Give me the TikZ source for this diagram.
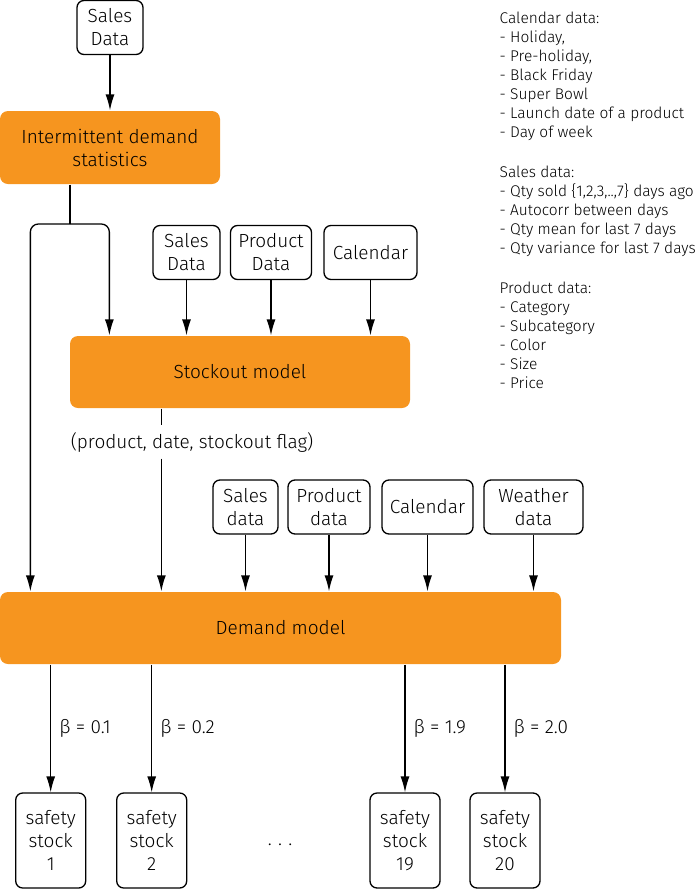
\documentclass[tikz,border=0pt]{standalone}
\usepackage{fontspec}
\setmainfont{Fira Sans Light}
\usetikzlibrary{positioning,calc,arrows.meta}
\definecolor{boxorange}{HTML}{F6951F}

\begin{document}
\begin{tikzpicture}[x=1pt,y=-1pt,
	every node/.style={font=\fontsize{19}{23}\selectfont,text=black},
	databox/.style={draw,rounded corners=7pt,line width=1.3pt,align=center,minimum height=54pt,inner sep=2pt},
	stockbox/.style={databox,minimum width=70pt,minimum height=95pt},
	modelbox/.style={fill=boxorange,rounded corners=8pt,align=center,minimum height=73pt},
	>={Latex[length=16pt,width=9pt]},
	line width=1.3pt]

\useasboundingbox (0,0) rectangle (700,892);

\node[databox,minimum width=66pt](sales0) at (110,27.5) {Sales\\Data};
\node[modelbox,minimum width=220pt](ids) at (110,147.5) {Intermittent demand\\statistics};

\node[databox,minimum width=67pt](sales1) at (186.5,252.5) {Sales\\Data};
\node[databox,minimum width=81pt](prod1) at (271,252.5) {Product\\Data};
\node[databox,minimum width=93pt](cal1) at (370.5,252.5) {Calendar};
\node[modelbox,minimum width=340pt,minimum height=72pt](stockout) at (240,372) {Stockout model};
\node[inner sep=6pt](flag) at (192,442) {(product, date, stockout flag)};

\node[databox,minimum width=65pt](sales2) at (245.5,507) {Sales\\data};
\node[databox,minimum width=82pt](prod2) at (329,507) {Product\\data};
\node[databox,minimum width=91pt](cal2) at (427.5,507) {Calendar};
\node[databox,minimum width=99pt](weather) at (533.5,507) {Weather\\data};
\node[modelbox,minimum width=561pt,minimum height=72pt](demand) at (280.5,628) {Demand model};

\node[stockbox](ss1) at (50.7,840.5) {safety\\stock\\1};
\node[stockbox](ss2) at (151.7,840.5) {safety\\stock\\2};
\node[stockbox](ss19) at (405,840.5) {safety\\stock\\19};
\node[stockbox](ss20) at (505,840.5) {safety\\stock\\20};
\node(dots) at (280,845) {.\,\,.\,\,.};

% notes on the features
\node[anchor=north west,align=left,inner sep=0pt,font=\fontsize{15.5}{19}\selectfont](notes) at (499,11) {Calendar data:\\
- Holiday,\\
- Pre-holiday,\\
- Black Friday\\
- Super Bowl\\
- Launch date of a product\\
- Day of week\\[21pt]
Sales data:\\
- Qty sold \{1,2,3,..,7\} days ago\\
- Autocorr between days\\
- Qty mean for last 7 days\\
- Qty variance for last 7 days\\[21pt]
Product data:\\
- Category\\
- Subcategory\\
- Color\\
- Size\\
- Price};

\coordinate(split) at (70,224);
\coordinate(sx) at ($(stockout.south west)+(92,0)$);

\draw[->](sales0)--(ids);
\draw(ids.south -| split)--(split);
\draw[->,rounded corners=8pt](split)-|($(demand.north west)+(31,0)$);
\draw[->,rounded corners=8pt](split)-|($(stockout.north west)+(40,0)$);

\foreach \n in {sales1,prod1,cal1}{
	\draw[->](\n)--(\n |- stockout.north);
}
\draw(sx)--(sx |- flag.north);
\draw[->](sx |- flag.south)--(sx |- demand.north);

\foreach \n in {sales2,prod2,cal2,weather}{
	\draw[->](\n)--(\n |- demand.north);
}

\foreach \n/\b in {ss1/0.1,ss2/0.2,ss19/1.9,ss20/2.0}{
	\draw[->](\n |- demand.south)--node[right,inner sep=8pt]{β = \b}(\n);
}

\end{tikzpicture}
\end{document}
